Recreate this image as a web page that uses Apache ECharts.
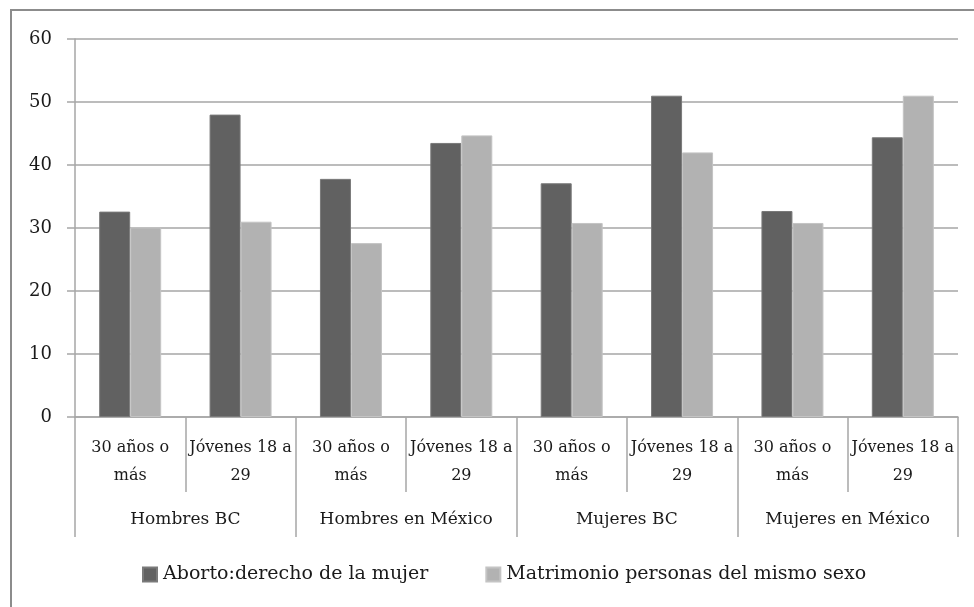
<!DOCTYPE html>
<html>
<head>
<meta charset="utf-8">
<script src="https://cdn.jsdelivr.net/npm/echarts@6/dist/echarts.min.js"></script>
<style>
  html, body { margin: 0; padding: 0; background: #fff; }
  #frame { position: absolute; left: 10px; top: 9px; width: 980px; height: 620px; border: 2px solid #8c8c8c; box-sizing: border-box; }
  #chart { position: absolute; left: 0; top: 0; width: 974px; height: 607px; }
</style>
</head>
<body>
<div id="frame"></div>
<div id="chart"></div>
<script>
// Age groups (inner axis level) and population groups (outer axis level)
const ageGroups = ['30 años o\nmás', 'Jóvenes 18 a\n29', '30 años o\nmás', 'Jóvenes 18 a\n29',
                   '30 años o\nmás', 'Jóvenes 18 a\n29', '30 años o\nmás', 'Jóvenes 18 a\n29'];
const populationGroups = ['Hombres BC', 'Hombres en México', 'Mujeres BC', 'Mujeres en México'];

// Percentages per series
const seriesNames = ['Aborto:derecho de la mujer', 'Matrimonio personas del mismo sexo'];
const abortoValues = [32.6, 48.0, 37.8, 43.5, 37.1, 51.0, 32.7, 44.4];
const matrimonioValues = [30.1, 31.0, 27.6, 44.7, 30.8, 42.0, 30.8, 51.0];

// Y axis scale
const yMin = 0, yMax = 60, yStep = 10;

const font = 'DejaVu Serif';
const textColor = '#1a1a1a';
const lineColor = '#a6a6a6';

const chart = echarts.init(document.getElementById('chart'), null, { renderer: 'canvas' });
chart.setOption({
  backgroundColor: 'transparent',
  animation: false,
  grid: { left: 75, right: 16, top: 39, bottom: 190 },
  legend: {
    bottom: 23,
    left: 142,
    padding: 0,
    itemWidth: 14,
    itemHeight: 14,
    itemGap: 57,
    icon: 'rect',
    textStyle: { fontFamily: font, fontSize: 19, color: textColor, padding: [0, 0, 0, 1] },
    data: seriesNames
  },
  xAxis: [
    {
      type: 'category',
      data: ageGroups,
      position: 'bottom',
      axisLine: { show: true, lineStyle: { color: lineColor, width: 1.5 } },
      axisTick: { show: true, interval: 0, length: 75, lineStyle: { color: lineColor, width: 1.5 } },
      axisLabel: { interval: 0, margin: 17, fontFamily: font, fontSize: 16, lineHeight: 28, color: textColor }
    },
    {
      type: 'category',
      data: populationGroups,
      position: 'bottom',
      offset: 120,
      axisLine: { show: false },
      axisTick: { show: true, inside: true, interval: 0, length: 120, lineStyle: { color: lineColor, width: 1.5 } },
      axisLabel: { inside: true, interval: 0, margin: 9, fontFamily: font, fontSize: 17, color: textColor }
    }
  ],
  yAxis: {
    type: 'value',
    min: yMin,
    max: yMax,
    interval: yStep,
    axisLine: { show: true, lineStyle: { color: lineColor, width: 1.5 } },
    axisTick: { show: true, length: 8, lineStyle: { color: lineColor, width: 1.5 } },
    axisLabel: { margin: 23, fontFamily: font, fontSize: 18, color: textColor },
    splitLine: { show: true, lineStyle: { color: lineColor, width: 1.5 } }
  },
  series: [
    {
      name: seriesNames[0],
      type: 'bar',
      xAxisIndex: 0,
      data: abortoValues,
      barWidth: 31,
      barGap: '0%',
      itemStyle: { color: '#616161', borderColor: '#7a7a7a', borderWidth: 1 }
    },
    {
      name: seriesNames[1],
      type: 'bar',
      xAxisIndex: 0,
      data: matrimonioValues,
      barWidth: 31,
      barGap: '0%',
      itemStyle: { color: '#b2b2b2', borderColor: '#c4c4c4', borderWidth: 1 }
    }
  ]
});
</script>
</body>
</html>
